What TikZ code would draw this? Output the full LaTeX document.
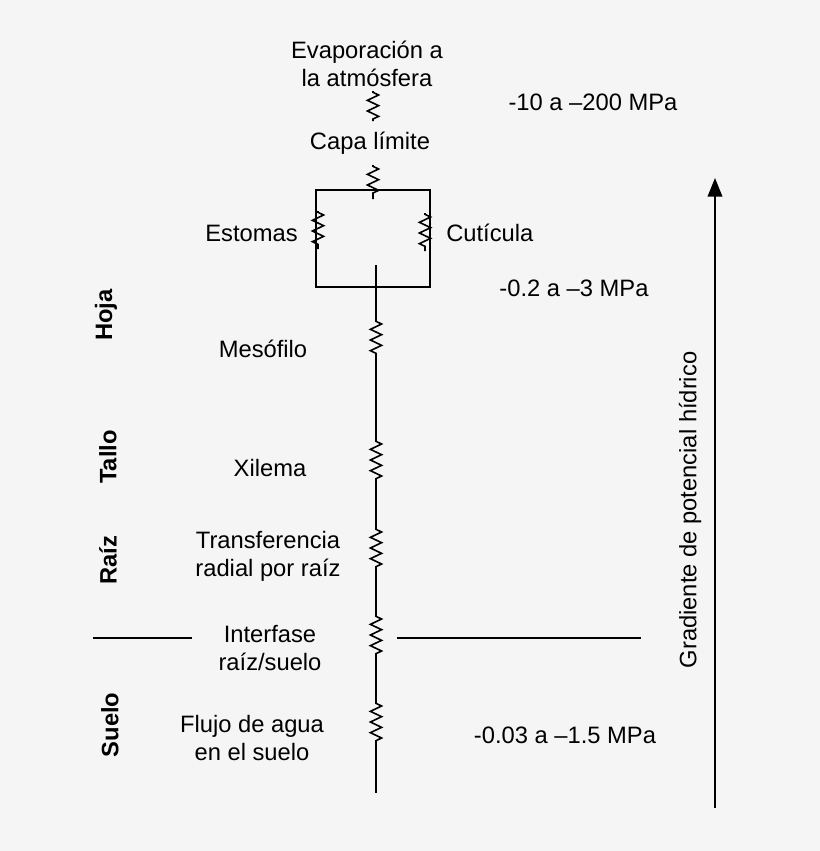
\documentclass[tikz,border=0pt]{standalone}
\usepackage{fontspec}
\setmainfont{Liberation Sans}
\usetikzlibrary{arrows.meta,decorations.pathmorphing}
\tikzset{
  lbl/.style={align=center,font=\fontsize{17.8}{21}\selectfont,inner sep=0pt},
  zone/.style={font=\bfseries\fontsize{17.8}{21}\selectfont,rotate=90,inner sep=0pt},
  res/.style={decorate,decoration={zigzag,segment length=8pt,amplitude=4.2pt,pre length=1pt,post length=1pt}},
  wire/.style={line width=1.2pt}
}
\begin{document}
\begin{tikzpicture}[x=0.75pt,y=-0.75pt]
  \useasboundingbox[fill=white!96!black] (0,0) rectangle (820,851);
  % texts
  \node[lbl] (evap) at (367,64) {Evaporación a\\la atmósfera};
  \node[lbl] (capa) at (370,143) {Capa límite};
  \node[lbl,anchor=east] (estomas) at (298,233) {Estomas};
  \node[lbl,anchor=west] (cuti) at (446,233) {Cutícula};
  \node[lbl] (meso) at (263,349) {Mesófilo};
  \node[lbl] (xil) at (270,468) {Xilema};
  \node[lbl] (trans) at (268,556) {Transferencia\\radial por raíz};
  \node[lbl] (inter) at (270,648) {Interfase\\raíz/suelo};
  \node[lbl] (flujo) at (252,738) {Flujo de agua\\en el suelo};
  \node[lbl] (p1) at (593,102) {-10 a --200 MPa};
  \node[lbl] (p2) at (574,288) {-0.2 a --3 MPa};
  \node[lbl] (p3) at (565,735) {-0.03 a --1.5 MPa};
  \node[zone] (hoja) at (106,315) {Hoja};
  \node[zone] (tallo) at (108,457) {Tallo};
  \node[zone] (raiz) at (108,560) {Raíz};
  \node[zone] (suelo) at (110,725) {Suelo};
  \node[lbl,rotate=90] (grad) at (690,510) {Gradiente de potencial hídrico};
  % circuit
  \coordinate (tl) at (316,190); \coordinate (tr) at (430,190);
  \coordinate (bl) at (316,287); \coordinate (br) at (430,287);
  \draw[wire] (tl) -- (tr) -- (br) -- (bl) -- cycle;
  \draw[res,wire] (373,91) -- (373,121);
  \draw[res,wire] (373,165) -- (373,199);
  \draw[res,wire] (318,211) -- (318,249);
  \draw[res,wire] (425,213) -- (425,251);
  \draw[wire] (376,265) -- (376,320);
  \draw[res,wire] (376,320) -- (376,358);
  \draw[wire] (376,358) -- (376,440);
  \draw[res,wire] (376,440) -- (376,485);
  \draw[wire] (376,485) -- (376,528);
  \draw[res,wire] (376,528) -- (376,570);
  \draw[wire] (376,570) -- (376,615);
  \draw[res,wire] (376,615) -- (376,658);
  \draw[wire] (376,658) -- (376,702);
  \draw[res,wire] (376,702) -- (376,742);
  \draw[wire] (376,742) -- (376,793);
  % interface lines and arrow
  \coordinate (il1) at (93,638); \coordinate (il2) at (192,638);
  \coordinate (ir1) at (397,638); \coordinate (ir2) at (641,638);
  \draw[wire] (il1) -- (il2);
  \draw[wire] (ir1) -- (ir2);
  \coordinate (ga) at (715,808); \coordinate (gb) at (715,178);
  \draw[wire,-{Triangle[length=14pt,width=11pt]}] (ga) -- (gb);
\end{tikzpicture}
\end{document}
